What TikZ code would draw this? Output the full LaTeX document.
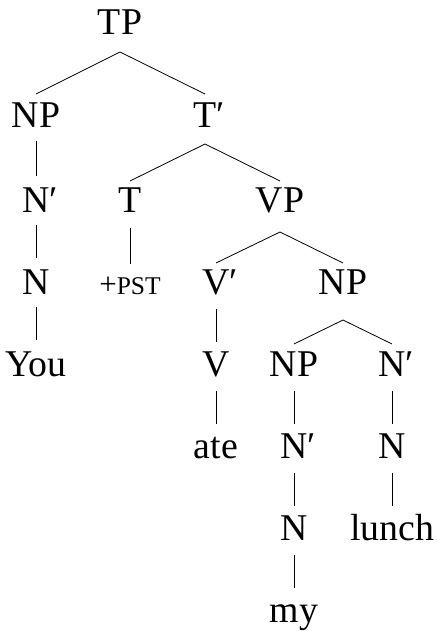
\documentclass[tikz,border=0pt]{standalone}
\usepackage{fontspec}
\setmainfont{Liberation Serif}
\begin{document}
\begin{tikzpicture}[x=1pt,y=1pt,
  lab/.style={anchor=base,inner sep=0pt,font=\fontsize{37.8}{40}\selectfont},
  sc/.style={anchor=base,inner sep=0pt,font=\fontsize{25.5}{26}\selectfont},
  edge/.style={line width=0.8pt}]
\useasboundingbox (0,0) rectangle (436,-631);
% row 0
\node[lab] (TP) at (120,-35) {TP};
% row 1
\node[lab] (NPa) at (36,-128) {NP};
\node[lab] (Tb) at (205,-128) {T\rlap{′}};
% row 2
\node[lab] (Nba) at (36,-212) {N\rlap{′}};
\node[lab] (T) at (130,-212) {T};
\node[lab] (VP) at (280,-212) {VP};
% row 3
\node[lab] (Na) at (36,-294) {N};
\node[sc] (PST) at (130,-294) {{\fontsize{31}{32}\selectfont+}PST};
\node[lab] (Vb) at (216,-294) {V\rlap{′}};
\node[lab] (NPb) at (343,-294) {NP};
% row 4
\node[lab] (You) at (36,-376) {You};
\node[lab] (V) at (216,-376) {V};
\node[lab] (NPc) at (294,-376) {NP};
\node[lab] (Nbb) at (392,-376) {N\rlap{′}};
% row 5
\node[lab] (ate) at (216,-458) {ate};
\node[lab] (Nbc) at (294,-458) {N\rlap{′}};
\node[lab] (Nb) at (392,-458) {N};
% row 6
\node[lab] (Nc) at (294,-540) {N};
\node[lab] (lunch) at (392,-540) {lunch};
% row 7
\node[lab] (my) at (294,-622) {my};
% branching edges
\draw[edge] (NPa.base) ++(0,34) -- ([yshift=-17pt]TP.base) -- ([yshift=34pt]Tb.base);
\draw[edge] ([yshift=31pt]T.base) -- ([yshift=-16pt]Tb.base) -- ([yshift=31pt]VP.base);
\draw[edge] ([yshift=31pt]Vb.base) -- ([yshift=-20pt]VP.base) -- ([yshift=31pt]NPb.base);
\draw[edge] ([yshift=32pt]NPc.base) -- ([yshift=-26pt]NPb.base) -- ([yshift=32pt]Nbb.base);
% unary edges
\draw[edge] ([yshift=-13pt]NPa.base) -- ([yshift=36pt]Nba.base);
\draw[edge] ([yshift=-13pt]Nba.base) -- ([yshift=36pt]Na.base);
\draw[edge] ([yshift=-13pt]Na.base) -- ([yshift=36pt]You.base);
\draw[edge] ([yshift=-16pt]T.base) -- ([yshift=30pt]PST.base);
\draw[edge] ([yshift=-15pt]Vb.base) -- ([yshift=34pt]V.base);
\draw[edge] ([yshift=-15pt]V.base) -- ([yshift=34pt]ate.base);
\draw[edge] ([yshift=-15pt]NPc.base) -- ([yshift=34pt]Nbc.base);
\draw[edge] ([yshift=-15pt]Nbc.base) -- ([yshift=34pt]Nc.base);
\draw[edge] ([yshift=-15pt]Nc.base) -- ([yshift=34pt]my.base);
\draw[edge] ([yshift=-15pt]Nbb.base) -- ([yshift=34pt]Nb.base);
\draw[edge] ([yshift=-15pt]Nb.base) -- ([yshift=34pt]lunch.base);
\end{tikzpicture}
\end{document}
